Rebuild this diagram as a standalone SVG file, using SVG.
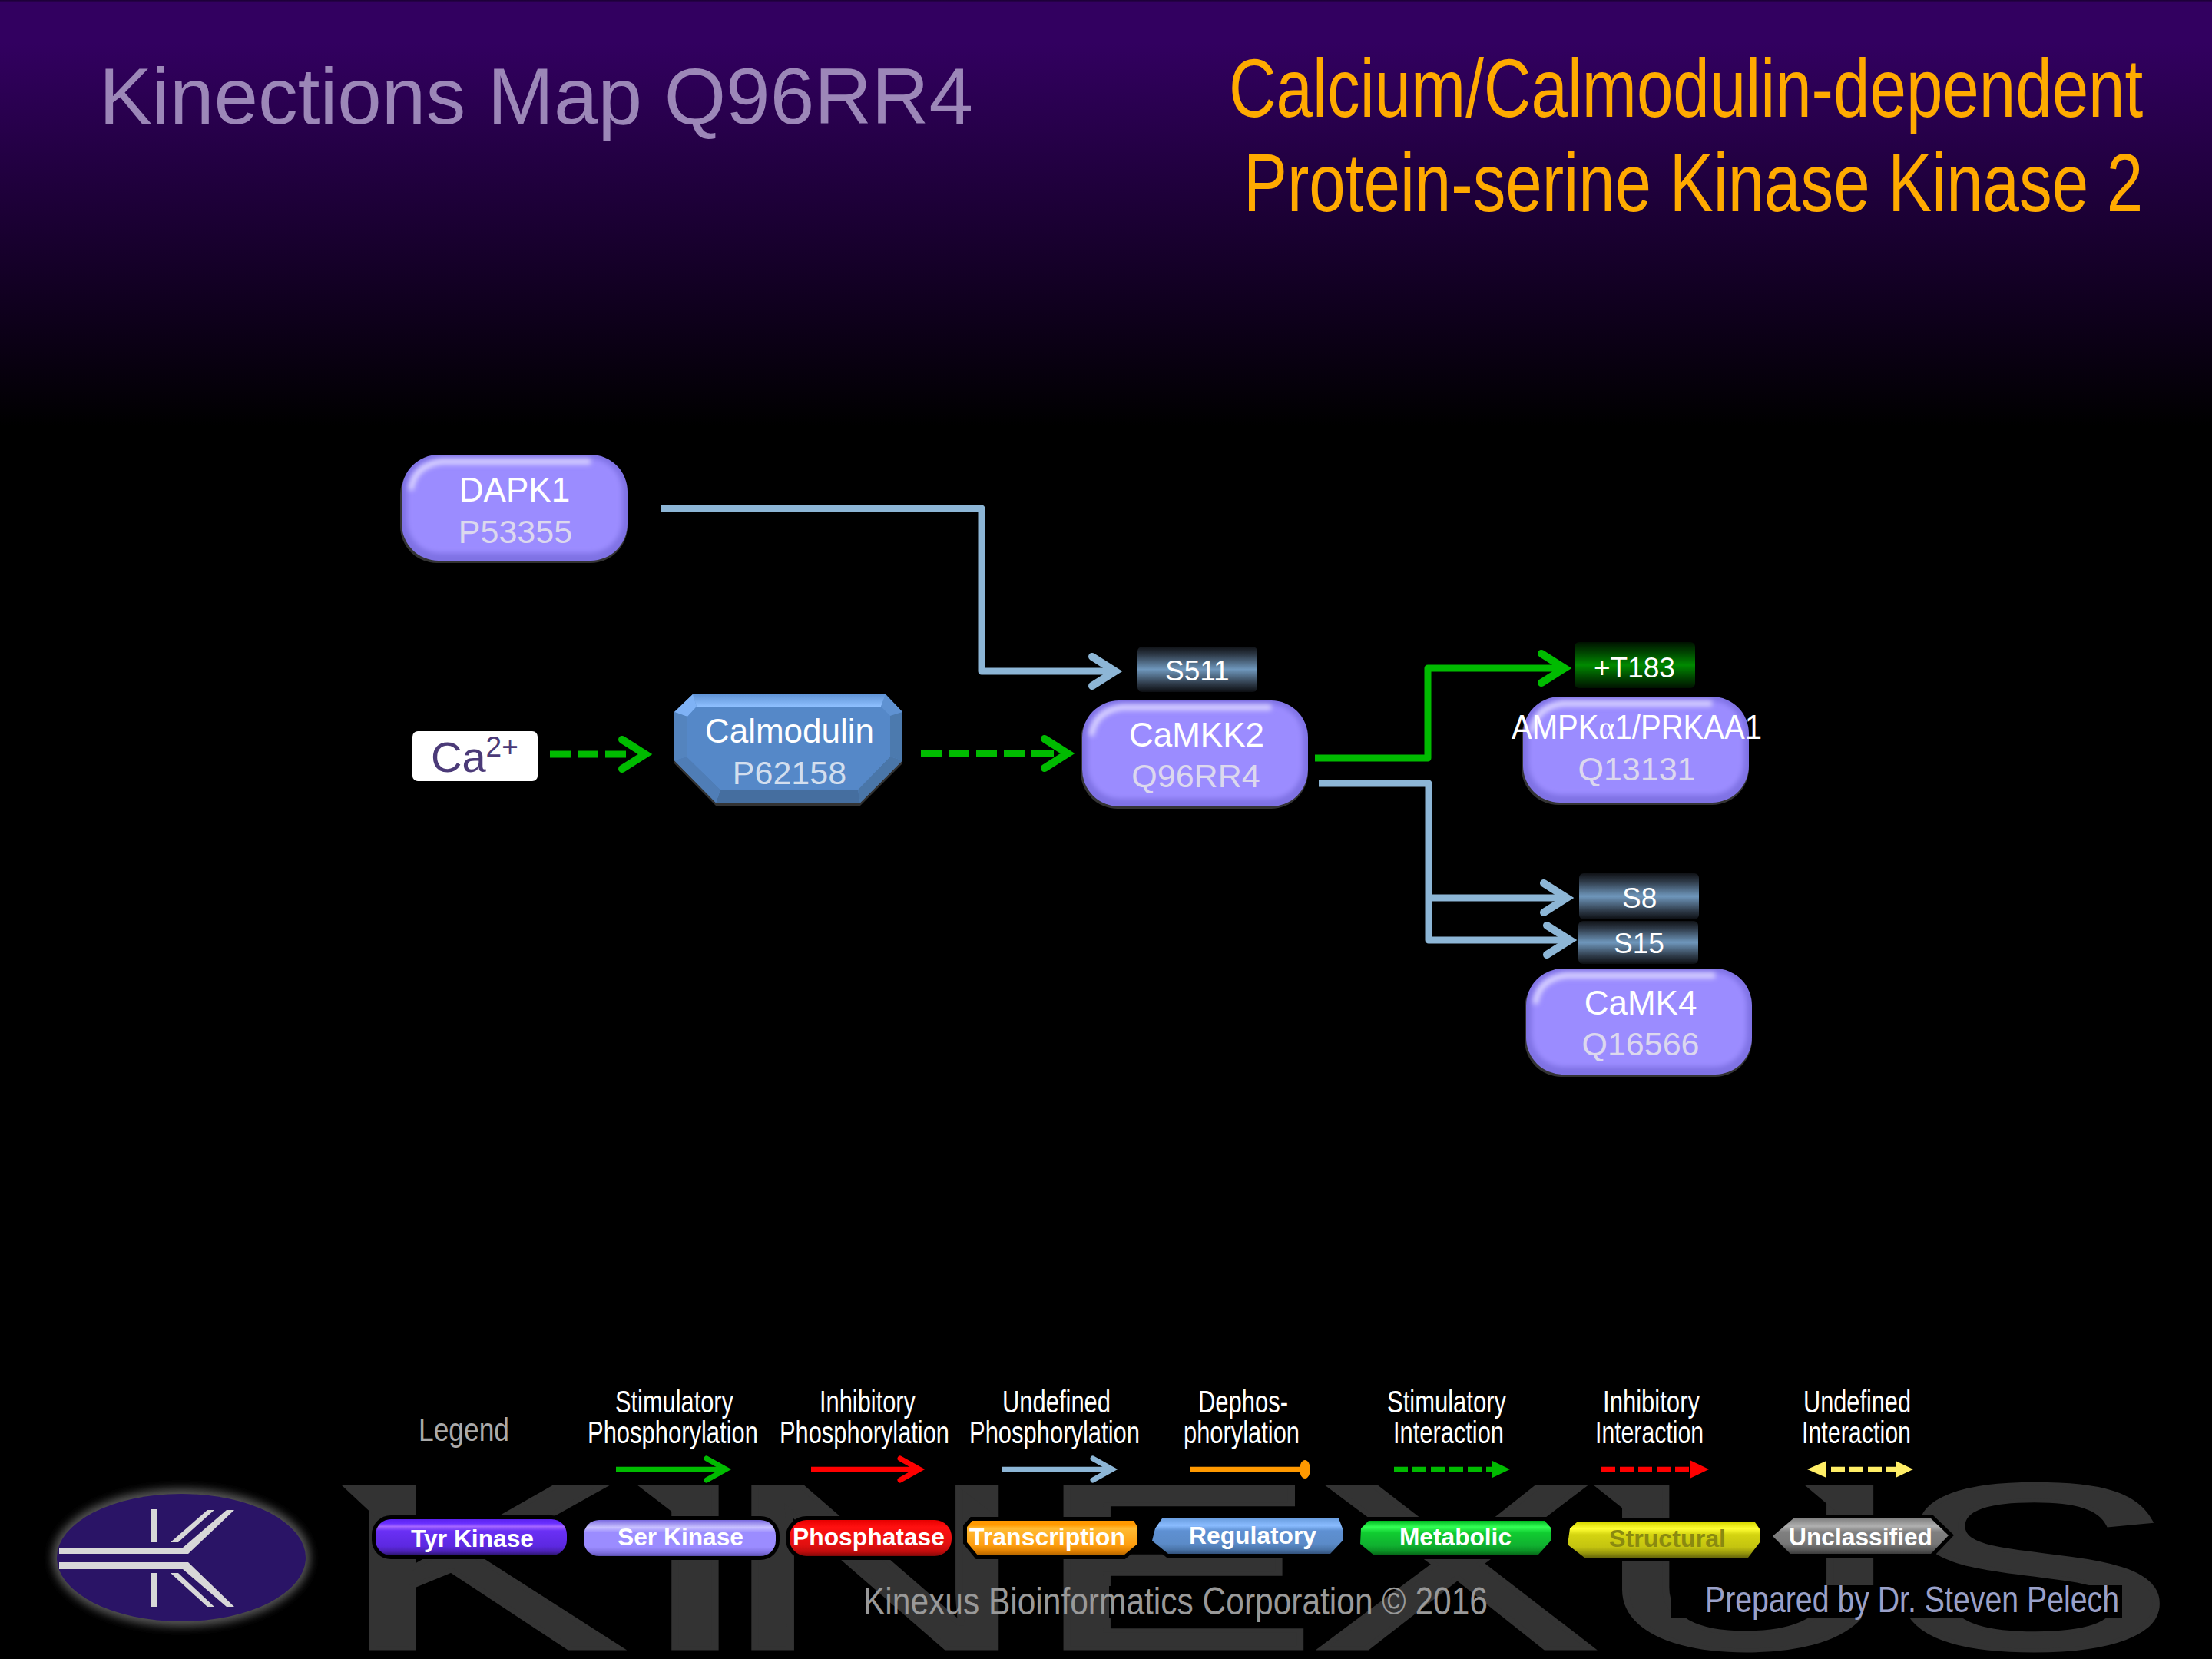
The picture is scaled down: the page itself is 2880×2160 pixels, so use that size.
<svg xmlns="http://www.w3.org/2000/svg" width="2880" height="2160" viewBox="0 0 2880 2160">
<style>
text{font-family:"Liberation Sans",Arial,sans-serif}
.n{font-size:44px;fill:#fff;text-anchor:middle}
.u{font-size:43px;fill:#dcd8ee;text-anchor:middle}
.s{font-size:37px;fill:#fff}
.l{font-size:40px;fill:#fff}
.b{font-size:32px;font-weight:700;fill:#fff}
.st{fill:none;stroke-width:9;stroke-linejoin:round}
.lg{fill:none;stroke-width:6.5}
.blue{stroke:#8db6d6}
.green{stroke:#00bb00}
.red{stroke:#ff0000}
.badge{stroke:#000;stroke-width:10;paint-order:stroke}
.wm{fill:#333}
</style>
<defs>
<linearGradient id="hdr" x1="0" y1="0" x2="0" y2="1"><stop offset="0" stop-color="#1a0033"/><stop offset=".006" stop-color="#320060"/><stop offset=".1" stop-color="#320060"/><stop offset="1" stop-color="#000"/></linearGradient>
<linearGradient id="sb" x1="0" y1="0" x2="0" y2="1"><stop offset="0" stop-color="#101216"/><stop offset=".18" stop-color="#2e3a48"/><stop offset=".5" stop-color="#6f97bc"/><stop offset=".82" stop-color="#2e3a48"/><stop offset="1" stop-color="#0c0e12"/></linearGradient>
<linearGradient id="sg" x1="0" y1="0" x2="0" y2="1"><stop offset="0" stop-color="#001200"/><stop offset=".25" stop-color="#004a00"/><stop offset=".5" stop-color="#008a00"/><stop offset=".75" stop-color="#004a00"/><stop offset="1" stop-color="#001200"/></linearGradient>
<linearGradient id="gt" x1="0" y1="0" x2="0" y2="1"><stop offset="0" stop-color="#5c22f0"/><stop offset=".12" stop-color="#6a30ff"/><stop offset=".2" stop-color="#a566ff"/><stop offset=".32" stop-color="#6a30f5"/><stop offset=".75" stop-color="#5c28e0"/><stop offset=".9" stop-color="#4a20b0"/><stop offset="1" stop-color="#281466"/></linearGradient>
<linearGradient id="gs" x1="0" y1="0" x2="0" y2="1"><stop offset="0" stop-color="#7a6ae0"/><stop offset=".2" stop-color="#c8c0ff"/><stop offset=".35" stop-color="#9b8cff"/><stop offset=".75" stop-color="#9b8cff"/><stop offset=".9" stop-color="#8070e0"/><stop offset="1" stop-color="#5c50b0"/></linearGradient>
<linearGradient id="gp" x1="0" y1="0" x2="0" y2="1"><stop offset="0" stop-color="#e80000"/><stop offset=".2" stop-color="#ff1010"/><stop offset=".7" stop-color="#e01010"/><stop offset=".88" stop-color="#c00c0c"/><stop offset="1" stop-color="#800808"/></linearGradient>
<linearGradient id="gr" x1="0" y1="0" x2="0" y2="1"><stop offset="0" stop-color="#ff9900"/><stop offset=".12" stop-color="#ff9900"/><stop offset=".22" stop-color="#ffbb33"/><stop offset=".7" stop-color="#ff9f10"/><stop offset=".88" stop-color="#e08000"/><stop offset="1" stop-color="#b06400"/></linearGradient>
<linearGradient id="ge" x1="0" y1="0" x2="0" y2="1"><stop offset="0" stop-color="#6a9ee0"/><stop offset=".2" stop-color="#8abcff"/><stop offset=".35" stop-color="#5e90d2"/><stop offset=".72" stop-color="#5b8bc8"/><stop offset=".88" stop-color="#4a74a8"/><stop offset="1" stop-color="#33527c"/></linearGradient>
<linearGradient id="gm" x1="0" y1="0" x2="0" y2="1"><stop offset="0" stop-color="#00b820"/><stop offset=".18" stop-color="#33ff55"/><stop offset=".35" stop-color="#10cc30"/><stop offset=".72" stop-color="#10b030"/><stop offset=".88" stop-color="#0a9024"/><stop offset="1" stop-color="#066016"/></linearGradient>
<linearGradient id="gy" x1="0" y1="0" x2="0" y2="1"><stop offset="0" stop-color="#d8d800"/><stop offset=".18" stop-color="#ffff33"/><stop offset=".35" stop-color="#d4d410"/><stop offset=".7" stop-color="#c4c410"/><stop offset=".86" stop-color="#9a9a0c"/><stop offset="1" stop-color="#66660a"/></linearGradient>
<linearGradient id="gu" x1="0" y1="0" x2="0" y2="1"><stop offset="0" stop-color="#808080"/><stop offset=".22" stop-color="#b0b0b0"/><stop offset=".38" stop-color="#808080"/><stop offset=".72" stop-color="#777"/><stop offset=".88" stop-color="#5a5a5a"/><stop offset="1" stop-color="#3c3c3c"/></linearGradient>
<linearGradient id="ct" x1="0" y1="0" x2="0" y2="1"><stop offset="0" stop-color="#5f93d6"/><stop offset="1" stop-color="#8fc0ff"/></linearGradient>
<filter id="b3" x="-20%" y="-20%" width="140%" height="140%"><feGaussianBlur stdDeviation="3"/></filter>
<filter id="b6" x="-20%" y="-30%" width="140%" height="160%"><feGaussianBlur stdDeviation="6"/></filter>
<clipPath id="kc"><rect width="294" height="138" rx="48"/></clipPath>
<g id="kin">
<rect x="-2" y="4" width="296" height="137" rx="48" fill="#333"/>
<rect width="294" height="138" rx="48" fill="#7f72e4"/>
<g clip-path="url(#kc)">
<rect x="7" y="5" width="280" height="123" rx="42" fill="#9b8cff" filter="url(#b3)"/>
<path d="M12 46Q16 14 52 9H246" fill="none" stroke="#dcd6ff" stroke-width="7" filter="url(#b3)"/>
<path d="M3 138H291" stroke="#5f53b8" stroke-width="8" filter="url(#b3)"/>
</g>
</g>
<marker id="ab" markerUnits="userSpaceOnUse" markerWidth="1" markerHeight="1" overflow="visible" orient="auto"><path d="M-30-19L0 0L-30 19" fill="none" stroke="#8db6d6" stroke-width="10" stroke-linecap="round" stroke-miterlimit="8"/></marker>
<marker id="ag" markerUnits="userSpaceOnUse" markerWidth="1" markerHeight="1" overflow="visible" orient="auto"><path d="M-30-19L0 0L-30 19" fill="none" stroke="#00bb00" stroke-width="10" stroke-linecap="round" stroke-miterlimit="8"/></marker>
<marker id="lb" markerUnits="userSpaceOnUse" markerWidth="1" markerHeight="1" overflow="visible" orient="auto"><path d="M-25-14L0 0L-25 14" fill="none" stroke="#8db6d6" stroke-width="7" stroke-linecap="round" stroke-miterlimit="8"/></marker>
<marker id="lg" markerUnits="userSpaceOnUse" markerWidth="1" markerHeight="1" overflow="visible" orient="auto"><path d="M-25-14L0 0L-25 14" fill="none" stroke="#00bb00" stroke-width="7" stroke-linecap="round" stroke-miterlimit="8"/></marker>
<marker id="lr" markerUnits="userSpaceOnUse" markerWidth="1" markerHeight="1" overflow="visible" orient="auto"><path d="M-25-14L0 0L-25 14" fill="none" stroke="#ff0000" stroke-width="7" stroke-linecap="round" stroke-miterlimit="8"/></marker>
</defs>

<rect width="2880" height="2160" fill="#000"/>
<rect id="header" width="2880" height="555" fill="url(#hdr)"/>

<g id="watermark">
<text class="wm" stroke="#333" stroke-width="5" transform="translate(0 2146) scale(1.83 1)" font-size="306" x="240 452 512 734 934 1133 1344" y="0">KINEXUS</text>
<path class="wm" d="M444 1933H490V1976ZM829 1933H885V1976ZM1244 1933H1300V1976ZM2074 1933H2128V1976ZM2349 1933H2400V1976Z"/>
<path fill="#000" d="M1444 2065H1656V2106H1444ZM2175 2064H2763V2107H2175Z"/>
</g>

<g id="titles">
<text x="129" y="161" font-size="104" fill="#9c87b8" textLength="1138" lengthAdjust="spacingAndGlyphs">Kinections Map Q96RR4</text>
<text transform="translate(1600 152) scale(.79 1)" font-size="108" fill="#ffaa00">Calcium/Calmodulin-dependent</text>
<text transform="translate(1619 275) scale(.79 1)" font-size="108" fill="#ffaa00">Protein-serine Kinase Kinase 2</text>
</g>

<g id="connectors">
<path class="st blue" d="M861 662H1278V874H1452" marker-end="url(#ab)"/>
<path class="st green" d="M716 982H840" stroke-dasharray="27 9 27 9 27 200" marker-end="url(#ag)"/>
<path class="st green" d="M1199 981H1390" stroke-dasharray="27 9 27 9 27 9 27 9 29 200" marker-end="url(#ag)"/>
<path class="st green" d="M1712 987H1859V870H2037" marker-end="url(#ag)"/>
<path class="st blue" d="M1717 1020H1860V1224H2044" marker-end="url(#ab)"/>
<path class="st blue" d="M1860 1169H2040" marker-end="url(#ab)"/>
</g>

<g id="node-DAPK1"><use href="#kin" x="523" y="592"/><text class="n" x="670" y="653">DAPK1</text><text class="u" x="671" y="707">P53355</text></g>
<g id="node-Ca"><rect x="537" y="952" width="163" height="65" rx="7" fill="#fff"/><text x="561" y="1005" font-size="56" fill="#4b3a78">Ca<tspan dy="-20" font-size="37">2+</tspan></text></g>
<g id="node-Calmodulin">
<polygon points="902,908 1153,908 1175,931 1175,994 1120,1049 932,1049 878,994 878,931" fill="#333"/>
<polygon points="902,904 1153,904 1175,927 1175,990 1120,1045 932,1045 878,990 878,927" fill="#5a8fd0"/>
<polygon points="902,904 1153,904 1147,920 907,920" fill="url(#ct)"/>
<polygon points="902,904 907,920 895,933 878,927" fill="#7fb2f5"/>
<polygon points="1153,904 1175,927 1159,932 1147,920" fill="#5f92d2"/>
<polygon points="1175,927 1175,990 1159,985 1159,932" fill="#4c7aae"/>
<polygon points="1175,990 1120,1045 1117,1028 1159,985" fill="#4a76a8"/>
<polygon points="1120,1045 932,1045 938,1028 1117,1028" fill="#456e9f"/>
<polygon points="932,1045 878,990 894,985 938,1028" fill="#4f7db6"/>
<polygon points="878,990 878,927 895,933 894,985" fill="#5484be"/>
<polygon points="907,920 1147,920 1159,932 1159,985 1117,1028 938,1028 894,985 895,933" fill="#5588c8"/>
<text class="n" x="1028" y="967">Calmodulin</text><text class="u" x="1028" y="1021" style="fill:#d2deee">P62158</text>
</g>
<g id="node-CaMKK2"><use href="#kin" x="1409" y="912"/><text class="n" x="1558" y="972">CaMKK2</text><text class="u" x="1557" y="1025">Q96RR4</text></g>
<g id="node-AMPK"><use href="#kin" x="1983" y="907"/><text class="n" x="2131" y="962" textLength="326" lengthAdjust="spacingAndGlyphs">AMPK<tspan font-family="'Liberation Serif',serif">α</tspan>1/PRKAA1</text><text class="u" x="2131" y="1016">Q13131</text></g>
<g id="node-CaMK4"><use href="#kin" x="1987" y="1261"/><text class="n" x="2136" y="1321">CaMK4</text><text class="u" x="2136" y="1374">Q16566</text></g>

<g id="site-S511"><rect x="1481" y="842" width="156" height="59" rx="6" fill="url(#sb)"/><text class="s" x="1517" y="886">S511</text></g>
<g id="site-T183"><rect x="2050" y="836" width="157" height="60" rx="6" fill="url(#sg)"/><text class="s" x="2075" y="882">+T183</text></g>
<g id="site-S8"><rect x="2056" y="1137" width="156" height="60" rx="6" fill="url(#sb)"/><text class="s" x="2112" y="1182">S8</text></g>
<g id="site-S15"><rect x="2055" y="1199" width="156" height="56" rx="6" fill="url(#sb)"/><text class="s" x="2101" y="1241">S15</text></g>

<g id="logo">
<ellipse cx="236" cy="2028" rx="168" ry="90" fill="#555" filter="url(#b6)"/>
<ellipse cx="236" cy="2028" rx="162" ry="83" fill="#2a1466"/>
<g fill="#d8d8d8"><path d="M77 2015H238L295 1966H305L245 2023H77ZM77 2034H245L305 2092H295L238 2043H77ZM222 2008L270 1966H279L232 2008ZM222 2048H232L279 2092H270ZM196 1965H205V2008H196ZM196 2048H205V2092H196Z"/></g>
</g>

<g id="legend">
<text x="545" y="1876" font-size="42" fill="#aaa" textLength="118" lengthAdjust="spacingAndGlyphs">Legend</text>
<text class="l" x="801" y="1839" textLength="154" lengthAdjust="spacingAndGlyphs">Stimulatory</text>
<text class="l" x="765" y="1879" textLength="222" lengthAdjust="spacingAndGlyphs">Phosphorylation</text>
<text class="l" x="1067" y="1839" textLength="125" lengthAdjust="spacingAndGlyphs">Inhibitory</text>
<text class="l" x="1015" y="1879" textLength="221" lengthAdjust="spacingAndGlyphs">Phosphorylation</text>
<text class="l" x="1305" y="1839" textLength="141" lengthAdjust="spacingAndGlyphs">Undefined</text>
<text class="l" x="1262" y="1879" textLength="222" lengthAdjust="spacingAndGlyphs">Phosphorylation</text>
<text class="l" x="1560" y="1839" textLength="117" lengthAdjust="spacingAndGlyphs">Dephos-</text>
<text class="l" x="1541" y="1879" textLength="151" lengthAdjust="spacingAndGlyphs">phorylation</text>
<text class="l" x="1806" y="1839" textLength="155" lengthAdjust="spacingAndGlyphs">Stimulatory</text>
<text class="l" x="1814" y="1879" textLength="144" lengthAdjust="spacingAndGlyphs">Interaction</text>
<text class="l" x="2087" y="1839" textLength="126" lengthAdjust="spacingAndGlyphs">Inhibitory</text>
<text class="l" x="2077" y="1879" textLength="141" lengthAdjust="spacingAndGlyphs">Interaction</text>
<text class="l" x="2348" y="1839" textLength="140" lengthAdjust="spacingAndGlyphs">Undefined</text>
<text class="l" x="2346" y="1879" textLength="142" lengthAdjust="spacingAndGlyphs">Interaction</text>
<path class="lg green" d="M802 1913H945" marker-end="url(#lg)"/>
<path class="lg red" d="M1056 1913H1197" marker-end="url(#lr)"/>
<path class="lg blue" d="M1305 1913H1448" marker-end="url(#lb)"/>
<path class="lg" stroke="#ff9900" d="M1549 1913H1699"/><ellipse cx="1699" cy="1913" rx="7" ry="12" fill="#ff9900"/>
<path class="lg green" d="M1815 1913H1945" stroke-width="7" stroke-dasharray="18 6"/><polygon points="1943,1902 1966,1913 1943,1924" fill="#00bb00"/>
<path class="lg red" d="M2085 1913H2202" stroke-dasharray="18 6"/><polygon points="2200,1901 2225,1913 2200,1925" fill="#ff0000"/>
<path class="lg" stroke="#ffee66" d="M2384 1913H2470" stroke-dasharray="18 6"/><polygon points="2378,1902 2353,1913 2378,1924" fill="#ffee66"/><polygon points="2468,1902 2491,1913 2468,1924" fill="#ffee66"/>

<g id="badge-tyr"><rect class="badge" x="489" y="1978" width="249" height="47" rx="20" fill="url(#gt)"/><text class="b" x="535" y="2014" textLength="160" lengthAdjust="spacingAndGlyphs">Tyr Kinase</text></g>
<g id="badge-ser"><rect class="badge" x="760" y="1979" width="250" height="47" rx="20" fill="url(#gs)"/><text class="b" x="804" y="2012" textLength="164" lengthAdjust="spacingAndGlyphs">Ser Kinase</text></g>
<g id="badge-phos"><rect class="badge" x="1028" y="1979" width="211" height="47" rx="22" fill="url(#gp)"/><text class="b" x="1032" y="2012" textLength="198" lengthAdjust="spacingAndGlyphs">Phosphatase</text></g>
<g id="badge-trans"><polygon class="badge" points="1266,1980 1476,1980 1481,1988 1481,2010 1463,2025 1273,2025 1259,2008 1259,1988" fill="url(#gr)"/><text class="b" x="1262" y="2012" textLength="203" lengthAdjust="spacingAndGlyphs">Transcription</text></g>
<g id="badge-reg"><polygon class="badge" points="1513,1977 1743,1977 1748,1990 1748,2006 1732,2023 1521,2023 1500,2006 1504,1990" fill="url(#ge)"/><text class="b" x="1548" y="2010" textLength="166" lengthAdjust="spacingAndGlyphs">Regulatory</text></g>
<g id="badge-met"><polygon class="badge" points="1782,1980 2011,1980 2020,1990 2020,2005 2002,2025 1789,2025 1771,2010 1772,1990" fill="url(#gm)"/><text class="b" x="1822" y="2012" textLength="146" lengthAdjust="spacingAndGlyphs">Metabolic</text></g>
<g id="badge-struct"><polygon class="badge" points="2053,1982 2285,1982 2292,1992 2292,2007 2276,2028 2063,2028 2041,2011 2044,1990" fill="url(#gy)"/><text class="b" x="2095" y="2014" style="fill:#8a8a10" textLength="152" lengthAdjust="spacingAndGlyphs">Structural</text></g>
<g id="badge-uncl"><polygon class="badge" points="2335,1977 2514,1977 2537,1999 2514,2023 2331,2023 2308,2000" fill="url(#gu)"/><text class="b" x="2329" y="2012" textLength="187" lengthAdjust="spacingAndGlyphs">Unclassified</text></g>
</g>

<g id="footer">
<text x="1124" y="2102" font-size="50" fill="#999" textLength="813" lengthAdjust="spacingAndGlyphs">Kinexus Bioinformatics Corporation © 2016</text>
<text x="2220" y="2099" font-size="48" fill="#9aa0c8" textLength="539" lengthAdjust="spacingAndGlyphs">Prepared by Dr. Steven Pelech</text>
</g>
</svg>
